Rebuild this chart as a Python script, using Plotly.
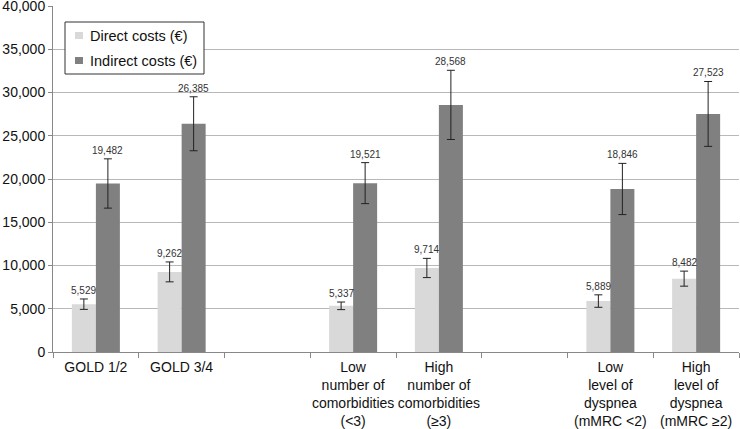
import plotly.graph_objects as go

categories = ["GOLD 1/2", "GOLD 3/4", " ",
              "Low<br>number of<br>comorbidities<br>(&lt;3)",
              "High<br>number of<br>comorbidities<br>(≥3)", "  ",
              "Low<br>level of<br>dyspnea<br>(mMRC &lt;2)",
              "High<br>level of<br>dyspnea<br>(mMRC ≥2)"]
direct = [5529, 9262, None, 5337, 9714, None, 5889, 8482]
direct_err = [600, 1150, None, 440, 1110, None, 720, 870]
indirect = [19482, 26385, None, 19521, 28568, None, 18846, 27523]
indirect_err = [2850, 3120, None, 2370, 4000, None, 2960, 3750]
y_ticks = [0, 5000, 10000, 15000, 20000, 25000, 30000, 35000, 40000]
series_names = ["Direct costs (€)", "Indirect costs (€)"]
series_colors = ["#d9d9d9", "#808080"]

FONT = "Liberation Sans, Arial, sans-serif"

fig = go.Figure()
fig.add_trace(go.Bar(
    name=series_names[0], x=categories, y=direct, showlegend=False,
    marker=dict(color=series_colors[0], line=dict(width=0)),
    error_y=dict(type="data", array=direct_err, color="#222222", thickness=1, width=4),
))
fig.add_trace(go.Bar(
    name=series_names[1], x=categories, y=indirect, showlegend=False,
    marker=dict(color=series_colors[1], line=dict(width=0)),
    error_y=dict(type="data", array=indirect_err, color="#222222", thickness=1, width=4),
))

annotations = []
for vals, errs, shift in [(direct, direct_err, -12), (indirect, indirect_err, 12)]:
    for c, v, e in zip(categories, vals, errs):
        if v is None:
            continue
        annotations.append(dict(x=c, y=v + e, text=f"{v:,}", showarrow=False, xshift=shift,
                                yanchor="bottom", yshift=1,
                                font=dict(size=10, color="#333333", family=FONT)))

# custom legend box (paper coordinates of the plot area: x 53..739 px, y 6..352 px)
def px_x(p):
    return (p - 53) / 686.0

def px_y(p):
    return (352 - p) / 346.0

shapes = [dict(type="rect", xref="paper", yref="paper",
               x0=px_x(65), x1=px_x(204), y0=px_y(74), y1=px_y(22),
               line=dict(color="#333333", width=1), fillcolor="white", layer="above")]
legend_rows = [(32, 39, 35.5), (57, 64, 61)]
for (ya, yb, yt), name, col in zip(legend_rows, series_names, series_colors):
    shapes.append(dict(type="rect", xref="paper", yref="paper",
                       x0=px_x(75), x1=px_x(83), y0=px_y(yb), y1=px_y(ya),
                       line=dict(width=0), fillcolor=col, layer="above"))
    annotations.append(dict(xref="paper", yref="paper", x=px_x(88), y=px_y(yt), text=name,
                            showarrow=False, xanchor="left", yanchor="middle",
                            font=dict(size=14.5, color="#111111", family=FONT)))

fig.update_layout(
    width=740, height=429,
    margin=dict(l=53, r=1, t=6, b=77, autoexpand=False),
    paper_bgcolor="white", plot_bgcolor="white",
    font=dict(family=FONT, size=14, color="#111111"),
    barmode="group", bargap=0.44, bargroupgap=0,
    annotations=annotations, shapes=shapes,
    showlegend=False,
    xaxis=dict(type="category", categoryorder="array", categoryarray=categories,
               showline=True, linecolor="#888888", linewidth=1, automargin=False,
               ticks="outside", ticklen=5, tickcolor="#888888", tickson="boundaries",
               showgrid=False, tickangle=0, tickfont=dict(size=14), ticklabelstandoff=2),
    yaxis=dict(range=[0, 40000], tickvals=y_ticks, tickformat=",d", automargin=False,
               showline=True, linecolor="#888888", linewidth=1,
               ticks="outside", ticklen=4, tickcolor="#888888", ticklabeloverflow="allow",
               showgrid=True, gridcolor="#b8b8b8", gridwidth=1,
               zeroline=False, tickfont=dict(size=14)),
)

fig.write_html("out.html", config={"displayModeBar": False},
               post_script="document.body.style.margin='0';document.body.style.padding='0';")
